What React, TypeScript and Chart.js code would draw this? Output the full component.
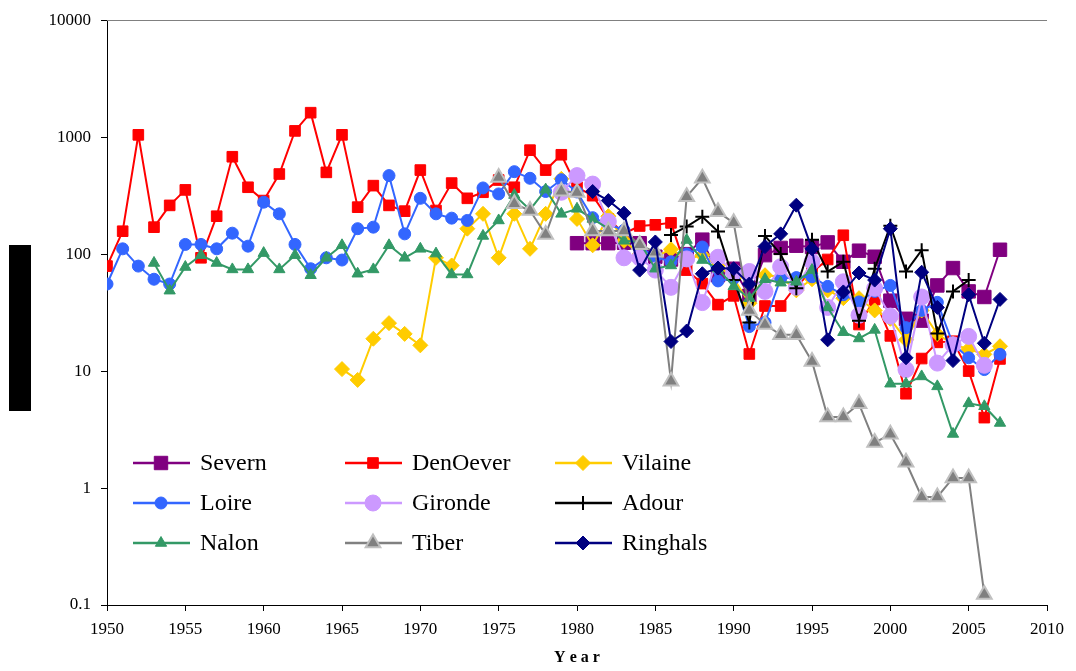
import React, { useEffect, useRef } from "react";
import { Chart, registerables } from "chart.js";
import { drawPoint } from "chart.js/helpers";

Chart.register(...registerables);

const FONT = '"Liberation Serif", "Times New Roman", Times, serif';

// ---- axes ----
const Y_TICKS = [0.1, 1, 10, 100, 1000, 10000];
const X_TICKS = [1950, 1955, 1960, 1965, 1970, 1975, 1980, 1985, 1990, 1995, 2000, 2005, 2010];
const X_TITLE = "Year";

// ---- data (first year + yearly values) ----
const severnStart = 1980;
const severn = [124, 124, 124, 125, 124, 95, 90, 100, 133, 66, 75, 44, 98, 113, 118, 115, 126, 86, 107, 95, 40, 28, 27, 54, 76, 48, 43, 109];

const denOeverStart = 1950;
const denOever = [79, 157, 1047, 170, 261, 354, 93, 211, 680, 373, 287, 484, 1131, 1619, 500, 1047, 252, 385, 261, 233, 523, 236, 405, 300, 338, 430, 373, 774, 523, 707, 373, 316, 200, 150, 174, 178, 185, 73, 56, 37, 44, 14, 36, 36, 54, 70, 90, 145, 25, 41, 20, 6.4, 12.8, 17.6, 18, 10, 4.0, 12.7];

const vilaineStart = 1965;
const vilaine = [10.4, 8.4, 18.9, 25.7, 20.8, 16.6, 93, 80, 165, 221, 93, 221, 111, 221, 440, 200, 119, 211, 130, 100, 95, 110, 90, 98, 80, 62, 38, 66, 64, 49, 61, 49, 42, 42, 33, 28, 18.5, 33, 20.7, 17, 15.4, 13.9, 16.3];

const loireStart = 1950;
const loire = [55.5, 111, 79, 61, 55.5, 121, 121, 111, 151, 117, 278, 221, 121, 75, 93, 89, 165, 170, 469, 149, 300, 221, 203, 194, 368, 327, 507, 445, 343, 433, 340, 205, 181, 160, 115, 95, 86, 100, 115, 59, 62, 24, 26, 62, 63, 64, 53, 45, 39, 48, 54, 23.5, 33, 38.7, 17, 13, 10.3, 13.9];

const girondeStart = 1979;
const gironde = [338, 469, 397, 190, 93, 93, 73, 52, 91, 38.5, 94, 70, 71, 48, 78, 52, 86, 35, 58, 30, 51, 29.5, 10.3, 43, 11.7, 16.8, 19.8, 11.2];

const adourStart = 1986;
const adour = [146, 172, 209, 156, 60, 26, 143, 100, 51, 133, 71, 86, 27, 75, 175, 71, 108, 21, 48, 60];

const nalonStart = 1953;
const nalon = [84, 48.7, 77.6, 98, 84, 74, 74, 102, 74, 98, 66, 93, 119, 68, 74, 119, 93, 111, 101, 67, 67, 143, 194, 320, 240, 356, 221, 244, 200, 165, 130, 127, 75, 80, 132, 89, 75, 53, 42, 61, 57, 58, 73, 35, 21.5, 19, 22.5, 7.8, 7.8, 9.0, 7.4, 2.9, 5.3, 5.0, 3.6];

const tiberStart = 1975;
const tiber = [453, 269, 236, 147, 345, 336, 158, 158, 158, 120, 104, 8.2, 310, 445, 230, 185, 33, 25, 20.4, 20.4, 12.1, 4.05, 4.05, 5.25, 2.45, 2.88, 1.66, 0.84, 0.84, 1.22, 1.22, 0.123];

const ringhalsStart = 1981;
const ringhals = [343, 287, 224, 73, 127, 17.9, 22, 68, 76, 75, 55.5, 116, 149, 262, 111, 18.5, 47.5, 69, 60, 165, 13, 70, 35, 12.3, 45, 17.3, 41];

// ---- series (legend order, row-major; later = drawn on top) ----
type Series = {
  name: string;
  start: number;
  values: number[];
  color: string;
  fill: string;
  border: string;
  style: any;
  radius: number;
  pbw: number;
};

const SERIES: Series[] = [
  { name: "Severn", start: severnStart, values: severn, color: "#800080", fill: "#800080", border: "#800080", style: "rect", radius: 9.5, pbw: 1 },
  { name: "DenOever", start: denOeverStart, values: denOever, color: "#ff0000", fill: "#ff0000", border: "#ff0000", style: "rect", radius: 7.5, pbw: 1 },
  { name: "Vilaine", start: vilaineStart, values: vilaine, color: "#ffcc00", fill: "#ffcc00", border: "#ffcc00", style: "rectRot", radius: 7.5, pbw: 1 },
  { name: "Loire", start: loireStart, values: loire, color: "#3366ff", fill: "#3366ff", border: "#3366ff", style: "circle", radius: 6, pbw: 1 },
  { name: "Gironde", start: girondeStart, values: gironde, color: "#cc99ff", fill: "#cc99ff", border: "#cc99ff", style: "circle", radius: 8, pbw: 1 },
  { name: "Adour", start: adourStart, values: adour, color: "#000000", fill: "#000000", border: "#000000", style: "cross", radius: 7, pbw: 2 },
  { name: "Nalon", start: nalonStart, values: nalon, color: "#339966", fill: "#339966", border: "#339966", style: "triangle", radius: 6.5, pbw: 1 },
  { name: "Tiber", start: tiberStart, values: tiber, color: "#808080", fill: "#808080", border: "#c0c0c0", style: "triangle", radius: 8.5, pbw: 2 },
  { name: "Ringhals", start: ringhalsStart, values: ringhals, color: "#000080", fill: "#000080", border: "#000080", style: "rectRot", radius: 7, pbw: 1 },
];

const LEGEND_COLS = [133, 345, 555];
const LEGEND_ROWS = [463, 503, 543];

const overlayPlugin = {
  id: "overlay",
  afterDraw(chart: any) {
    const ctx: CanvasRenderingContext2D = chart.ctx;
    const { left, right, top, bottom } = chart.chartArea;
    ctx.save();
    // y-axis title block (rendered as a solid bar in the reference)
    ctx.fillStyle = "#000000";
    ctx.fillRect(9, 245, 22, 166);
    // top border
    ctx.strokeStyle = "#808080";
    ctx.lineWidth = 1;
    ctx.beginPath();
    ctx.moveTo(left, Math.round(top) + 0.5);
    ctx.lineTo(right, Math.round(top) + 0.5);
    ctx.stroke();
    // legend
    SERIES.forEach((s, i) => {
      const x0 = LEGEND_COLS[i % 3];
      const y = LEGEND_ROWS[Math.floor(i / 3)];
      ctx.strokeStyle = s.color;
      ctx.lineWidth = 2.5;
      ctx.beginPath();
      ctx.moveTo(x0, y);
      ctx.lineTo(x0 + 57, y);
      ctx.stroke();
      ctx.fillStyle = s.fill;
      ctx.strokeStyle = s.border;
      ctx.lineWidth = s.pbw;
      drawPoint(ctx, { pointStyle: s.style, rotation: 0, radius: s.radius, borderWidth: s.pbw } as any, x0 + 28, y);
      ctx.fillStyle = "#000000";
      ctx.font = `24px ${FONT}`;
      ctx.textAlign = "left";
      ctx.textBaseline = "middle";
      ctx.fillText(s.name, x0 + 67, y + 1);
    });
    // x-axis title, letter-spaced bold
    ctx.font = `bold 16px ${FONT}`;
    ctx.textBaseline = "middle";
    ctx.textAlign = "left";
    const spacing = 4;
    const chars = X_TITLE.split("");
    const widths = chars.map((c) => ctx.measureText(c).width);
    const total = widths.reduce((a, b) => a + b, 0) + spacing * (chars.length - 1);
    let cx = (left + right) / 2 - total / 2;
    chars.forEach((c, k) => {
      ctx.fillText(c, cx, bottom + 53);
      cx += widths[k] + spacing;
    });
    ctx.restore();
  },
};

export default function App() {
  const ref = useRef<HTMLCanvasElement | null>(null);
  useEffect(() => {
    document.body.style.margin = "0";
    const canvas = ref.current;
    if (!canvas) return;
    const n = SERIES.length;
    const chart = new Chart(canvas, {
      type: "line",
      data: {
        datasets: SERIES.map((s, i) => ({
          label: s.name,
          data: s.values.map((v, k) => ({ x: s.start + k, y: v })),
          borderColor: s.color,
          borderWidth: 2,
          backgroundColor: s.fill,
          pointStyle: s.style,
          pointRadius: s.radius,
          pointHoverRadius: s.radius,
          pointBackgroundColor: s.fill,
          pointBorderColor: s.border,
          pointBorderWidth: s.pbw,
          fill: false,
          tension: 0,
          order: n - 1 - i,
        })),
      },
      options: {
        responsive: false,
        animation: false,
        devicePixelRatio: 1,
        layout: { padding: { left: 0, right: 29, top: 17, bottom: 0 } },
        plugins: { legend: { display: false }, tooltip: { enabled: false } },
        scales: {
          x: {
            type: "linear",
            min: 1950,
            max: 2010,
            afterBuildTicks: (scale: any) => {
              scale.ticks = X_TICKS.map((v) => ({ value: v }));
            },
            afterFit: (scale: any) => {
              scale.height = 66;
            },
            grid: { drawOnChartArea: false, tickLength: 6, color: "#000000", tickColor: "#000000" },
            border: { color: "#000000", width: 1 },
            ticks: {
              color: "#000000",
              font: { family: FONT, size: 17 },
              padding: 8,
              maxRotation: 0,
              autoSkip: false,
              callback: (v: any) => String(v),
            },
          },
          y: {
            type: "logarithmic",
            min: 0.1,
            max: 10000,
            afterBuildTicks: (scale: any) => {
              scale.ticks = Y_TICKS.map((v) => ({ value: v }));
            },
            afterFit: (scale: any) => {
              scale.width = 107;
            },
            grid: { drawOnChartArea: false, tickLength: 6, color: "#000000", tickColor: "#000000" },
            border: { color: "#000000", width: 1 },
            ticks: {
              color: "#000000",
              font: { family: FONT, size: 17 },
              padding: 10,
              autoSkip: false,
              callback: (v: any) => String(v),
            },
          },
        },
      },
      plugins: [overlayPlugin],
    });
    return () => chart.destroy();
  }, []);
  return (
    <div style={{ position: "absolute", left: 0, top: 0, width: 1076, height: 671 }}>
      <canvas ref={ref} width={1076} height={671} />
    </div>
  );
}
